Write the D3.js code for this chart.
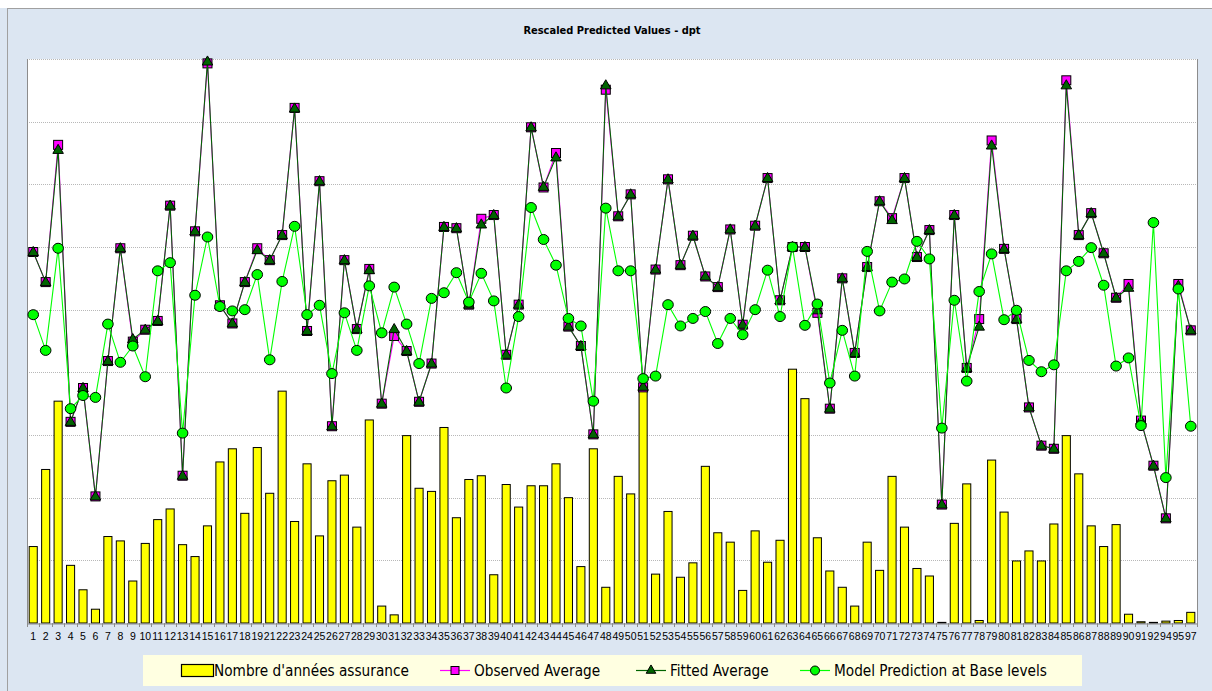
<!DOCTYPE html>
<html>
<head>
<meta charset="utf-8">
<script src="https://cdn.jsdelivr.net/npm/d3@7"></script>
<style>
    body { margin: 0; background: #ffffff; }
    svg { display: block; }
</style>
</head>
<body>
<div id="chart"></div>
<script>
// départements (20, 93, 96 absent)
const categories = ["1","2","3","4","5","6","7","8","9","10","11","12","13","14","15","16","17","18","19",
    "21","22","23","24","25","26","27","28","29","30","31","32","33","34","35","36","37","38","39","40",
    "41","42","43","44","45","46","47","48","49","50","51","52","53","54","55","56","57","58","59","60",
    "61","62","63","64","65","66","67","68","69","70","71","72","73","74","75","76","77","78","79","80",
    "81","82","83","84","85","86","87","88","89","90","91","92","94","95","97"];

const nombreAnnees = [1.22,2.45,3.54,0.92,0.53,0.22,1.38,1.31,0.67,1.27,1.65,1.82,1.25,1.06,1.55,2.57,2.78,1.75,2.80,
    2.07,3.70,1.62,2.54,1.39,2.27,2.36,1.53,3.24,0.27,0.13,2.99,2.15,2.10,3.12,1.68,2.29,2.35,0.77,2.21,
    1.85,2.19,2.19,2.54,2.00,0.90,2.78,0.57,2.34,2.06,3.78,0.78,1.78,0.73,0.96,2.50,1.44,1.29,0.52,1.47,
    0.97,1.32,4.05,3.58,1.36,0.83,0.57,0.27,1.29,0.84,2.34,1.53,0.87,0.75,0.01,1.59,2.22,0.04,2.60,1.77,
    0.99,1.15,0.99,1.58,2.99,2.38,1.55,1.22,1.57,0.14,0.02,0.01,0.03,0.04,0.17];

const observedAvg = [5.92,5.44,7.63,3.21,3.75,2.02,4.18,5.98,4.49,4.68,4.82,6.66,2.35,6.25,8.93,5.07,4.78,5.44,5.98,
    5.79,6.19,8.22,4.66,7.05,3.14,5.79,4.69,5.65,3.50,4.58,4.34,3.53,4.14,6.32,6.30,5.08,6.45,6.51,4.28,
    5.08,7.91,6.95,7.50,4.73,4.42,3.01,8.51,6.49,6.84,3.76,5.64,7.08,5.71,6.18,5.53,5.36,6.28,4.76,6.34,
    7.10,5.15,6.00,6.00,4.95,3.42,5.50,4.31,5.68,6.73,6.46,7.10,5.84,6.27,1.89,6.51,4.07,4.85,7.70,5.97,
    4.85,3.44,2.83,2.78,8.66,6.19,6.54,5.90,5.19,5.41,3.23,2.51,1.67,5.41,4.67];

const fittedAvg = [5.92,5.44,7.55,3.21,3.75,2.02,4.18,5.98,4.53,4.68,4.82,6.66,2.35,6.25,8.96,5.07,4.78,5.44,5.95,
    5.79,6.19,8.21,4.66,7.05,3.14,5.79,4.69,5.63,3.50,4.69,4.34,3.53,4.14,6.32,6.30,5.08,6.36,6.51,4.28,
    5.08,7.91,6.96,7.43,4.73,4.42,3.01,8.58,6.49,6.84,3.77,5.64,7.08,5.71,6.18,5.53,5.36,6.28,4.76,6.34,
    7.10,5.15,6.00,6.00,4.99,3.42,5.50,4.31,5.68,6.73,6.43,7.10,5.84,6.27,1.89,6.51,4.07,4.73,7.62,5.97,
    4.85,3.44,2.83,2.78,8.58,6.19,6.54,5.90,5.19,5.35,3.23,2.51,1.67,5.38,4.67];

const modelBase = [4.92,4.35,5.98,3.42,3.63,3.60,4.77,4.16,4.42,3.93,5.62,5.75,3.03,5.23,6.16,5.05,4.98,5.00,5.56,
    4.20,5.45,6.33,4.92,5.07,3.98,4.95,4.35,5.38,4.63,5.36,4.77,4.14,5.18,5.27,5.59,5.12,5.58,5.14,3.75,
    4.89,6.63,6.12,5.71,4.86,4.74,3.54,6.62,5.62,5.62,3.90,3.94,5.08,4.74,4.86,4.97,4.46,4.86,4.60,5.00,
    5.63,4.89,6.00,4.75,5.09,3.83,4.67,3.94,5.93,4.98,5.44,5.49,6.09,5.81,3.11,5.15,3.86,5.29,5.89,4.84,
    4.99,4.19,4.01,4.12,5.62,5.77,5.99,5.39,4.10,4.23,3.15,6.39,2.32,5.33,3.14];

const legendLabels = ["Nombre d'années assurance", "Observed Average", "Fitted Average", "Model Prediction at Base levels"];

const W = 1212, H = 691;
const plot = { left: 27, right: 1197, top: 59, bottom: 623 };

const svg = d3.select("#chart").append("svg")
    .attr("width", W)
    .attr("height", H);

// panel background
svg.append("rect").attr("x", 0).attr("y", 0).attr("width", W).attr("height", H).attr("fill", "#dce6f2");
svg.append("rect").attr("x", 0).attr("y", 0).attr("width", W).attr("height", 8).attr("fill", "#ffffff");
svg.append("line").attr("x1", 7).attr("x2", W).attr("y1", 8.5).attr("y2", 8.5).attr("stroke", "#a0a0a0");
svg.append("line").attr("x1", 7.5).attr("x2", 7.5).attr("y1", 8).attr("y2", H).attr("stroke", "#a0a0a0");

svg.append("rect")
    .attr("x", plot.left).attr("y", plot.top)
    .attr("width", plot.right - plot.left).attr("height", plot.bottom - plot.top)
    .attr("fill", "#ffffff");

svg.append("text")
    .attr("x", 612).attr("y", 34)
    .attr("text-anchor", "middle")
    .style("font-family", "'DejaVu Sans Condensed', 'DejaVu Sans', sans-serif")
    .style("font-weight", "bold")
    .style("font-size", "11px")
    .style("fill", "#000")
    .text("Rescaled Predicted Values - dpt");

const x = d3.scaleBand()
    .domain(categories)
    .range([plot.left, plot.right]);

const cx = c => x(c) + x.bandwidth() / 2;

const y = d3.scaleLinear().domain([0, 9]).range([plot.bottom, plot.top]);
const yBar = d3.scaleLinear().domain([0, 9]).range([plot.bottom, plot.top]);

// gridlines
svg.append("g")
    .selectAll("line")
    .data(y.ticks(9).filter(t => t > 0))
    .join("line")
    .attr("x1", plot.left).attr("x2", plot.right)
    .attr("y1", d => Math.round(y(d)) + 0.5).attr("y2", d => Math.round(y(d)) + 0.5)
    .attr("stroke", "#b8b8b8")
    .attr("stroke-dasharray", "1,1");

// bars
const barW = x.bandwidth() * 0.65;
svg.append("g")
    .selectAll("rect")
    .data(categories)
    .join("rect")
    .attr("x", (c) => cx(c) - barW / 2)
    .attr("y", (c, i) => yBar(nombreAnnees[i]))
    .attr("width", barW)
    .attr("height", (c, i) => yBar(0) - yBar(nombreAnnees[i]))
    .attr("fill", "#ffff00")
    .attr("stroke", "#000")
    .attr("stroke-width", 1);

// axes frame
svg.append("line").attr("x1", plot.left + 0.5).attr("x2", plot.left + 0.5)
    .attr("y1", plot.top).attr("y2", plot.bottom).attr("stroke", "#8c8c8c");
svg.append("line").attr("x1", plot.right + 0.5).attr("x2", plot.right + 0.5)
    .attr("y1", plot.top).attr("y2", plot.bottom).attr("stroke", "#8c8c8c");

const xAxis = svg.append("g")
    .attr("transform", `translate(0, ${plot.bottom + 0.5})`)
    .call(d3.axisBottom(x).tickSize(0).tickPadding(9));
xAxis.select(".domain").attr("stroke", "#8c8c8c");
xAxis.selectAll("text")
    .style("font-family", "'Liberation Sans', sans-serif")
    .style("font-size", "10.5px")
    .style("fill", "#000");

// tick marks between categories
svg.append("g")
    .selectAll("line")
    .data(categories.concat(["__end"]))
    .join("line")
    .attr("x1", (c, i) => Math.round(i < categories.length ? x(c) : plot.right) + 0.5)
    .attr("x2", (c, i) => Math.round(i < categories.length ? x(c) : plot.right) + 0.5)
    .attr("y1", plot.bottom).attr("y2", plot.bottom + 4)
    .attr("stroke", "#8c8c8c");

// series
function drawLine(values, color)
{
    svg.append("path")
        .datum(values)
        .attr("fill", "none")
        .attr("stroke", color)
        .attr("stroke-width", 1.1)
        .attr("d", d3.line()
            .x((d, i) => cx(categories[i]))
            .y(d => y(d)));
}

drawLine(observedAvg, "#ff00ff");
svg.append("g")
    .selectAll("rect")
    .data(observedAvg)
    .join("rect")
    .attr("x", (d, i) => cx(categories[i]) - 4.5)
    .attr("y", d => y(d) - 4.5)
    .attr("width", 9).attr("height", 9)
    .attr("fill", "#ff00ff")
    .attr("stroke", "#000")
    .attr("stroke-width", 1);

drawLine(fittedAvg, "#006400");
const tri = d3.symbol().type(d3.symbolTriangle).size(48);
svg.append("g")
    .selectAll("path")
    .data(fittedAvg)
    .join("path")
    .attr("d", tri)
    .attr("transform", (d, i) => `translate(${cx(categories[i])}, ${y(d) + 0.5})`)
    .attr("fill", "#006400")
    .attr("stroke", "#000")
    .attr("stroke-width", 1);

drawLine(modelBase, "#00ff00");
svg.append("g")
    .selectAll("ellipse")
    .data(modelBase)
    .join("ellipse")
    .attr("cx", (d, i) => cx(categories[i]))
    .attr("cy", d => y(d))
    .attr("rx", 5.3).attr("ry", 5)
    .attr("fill", "#00ff00")
    .attr("stroke", "#000")
    .attr("stroke-width", 1);

// legend
const lg = svg.append("g");
lg.append("rect")
    .attr("x", 143).attr("y", 655).attr("width", 939).attr("height", 31)
    .attr("fill", "#ffffe1");

const ly = 670.5;
const legendFont = "'DejaVu Sans Condensed', 'Liberation Sans Narrow', sans-serif";

lg.append("rect").attr("x", 181.5).attr("y", 664.5).attr("width", 32).attr("height", 12)
    .attr("fill", "#ffff00").attr("stroke", "#000").attr("stroke-width", 1.2);

const items = [
    { x: 214, text: legendLabels[0] },
    { x: 474, text: legendLabels[1], line: [440, 470], color: "#ff00ff" },
    { x: 670, text: legendLabels[2], line: [636, 666], color: "#006400" },
    { x: 834, text: legendLabels[3], line: [800, 830], color: "#00ff00" }
];

items.forEach((it, k) => {
    if(it.line)
    {
        lg.append("line")
            .attr("x1", it.line[0]).attr("x2", it.line[1])
            .attr("y1", ly).attr("y2", ly)
            .attr("stroke", it.color).attr("stroke-width", 1.2);
        const mx = (it.line[0] + it.line[1]) / 2;
        if(k == 1)
        {
            lg.append("rect").attr("x", mx - 4).attr("y", ly - 4).attr("width", 8).attr("height", 8)
                .attr("fill", "#ff00ff").attr("stroke", "#000");
        }
        else if(k == 2)
        {
            lg.append("path").attr("d", d3.symbol().type(d3.symbolTriangle).size(40))
                .attr("transform", `translate(${mx}, ${ly})`)
                .attr("fill", "#006400").attr("stroke", "#000");
        }
        else
        {
            lg.append("circle").attr("cx", mx).attr("cy", ly).attr("r", 4.5)
                .attr("fill", "#00ff00").attr("stroke", "#000");
        }
    }
    lg.append("text")
        .attr("x", it.x).attr("y", ly + 5)
        .style("font-family", legendFont)
        .style("font-size", "15.2px")
        .style("fill", "#000")
        .text(it.text);
});
</script>
</body>
</html>
